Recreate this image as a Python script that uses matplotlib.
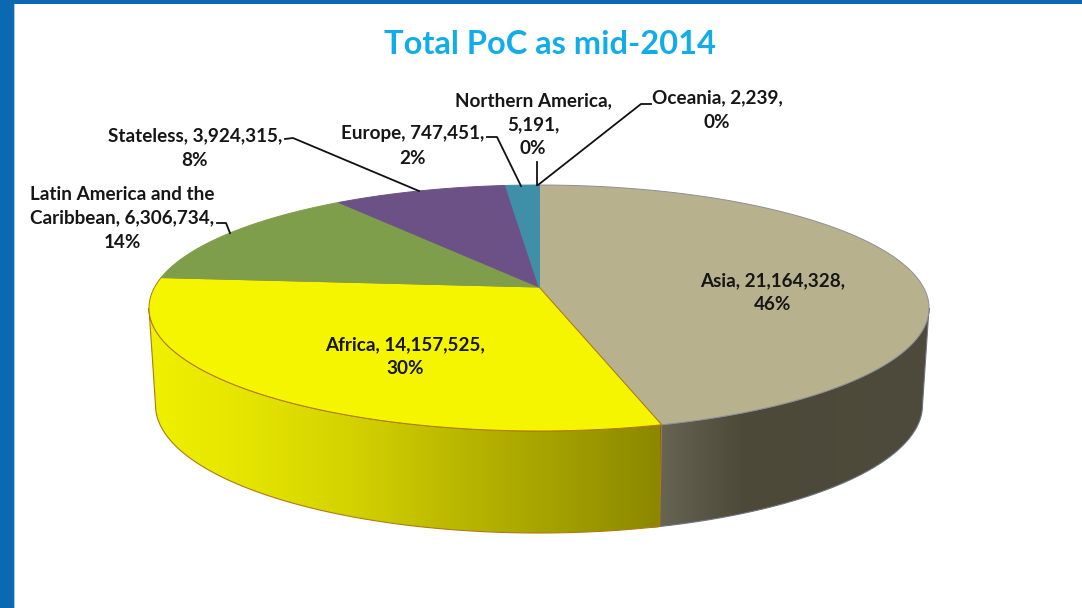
import numpy as np
import matplotlib
matplotlib.use("Agg")
import matplotlib.pyplot as plt
from matplotlib.colors import LinearSegmentedColormap
from matplotlib.patches import Polygon, Rectangle

plt.rcParams['font.family'] = ['Lato', 'DejaVu Sans']

categories = ["Asia", "Africa", "Latin America and the Caribbean", "Stateless",
              "Europe", "Northern America", "Oceania"]
values = [21164328, 14157525, 6306734, 3924315, 747451, 5191, 2239]
colors = ["#b8b18e", "#f5f500", "#7f9e4c", "#6c5186", "#3f8fa9", "#3f8fa9", "#3f8fa9"]
edges = ["#8a9098", "#b07a10", "#7f9e4c", "#6c5186", "#3f8fa9", "#3f8fa9", "#3f8fa9"]
labels = ["Asia, 21,164,328,\n46%", "Africa, 14,157,525,\n30%",
          "Latin America and the\nCaribbean, 6,306,734,\n14%", "Stateless, 3,924,315,\n8%",
          "Europe, 747,451,\n2%", "Northern America,\n5,191,\n0%", "Oceania, 2,239,\n0%"]
label_xy = [(773, 293), (405, 357), (122, 218), (195, 148), (413, 146), (533, 125), (717, 110)]
leaders = [None, None,
           [(217, 223), (226, 223), (230, 233)],
           [(285, 139), (293, 138), (419, 191)],
           [(487, 137), (497, 137), (521, 186)],
           [(537, 162), (537, 185)],
           [(651, 104), (641, 104), (538, 185)]]
side_x = {"Africa": [150, 250, 350, 450, 550, 660],
          "Asia": [655, 700, 745, 930]}
side_c = {"Africa": ["#f0f000", "#e4e400", "#d4d200", "#bcb900", "#a5a200", "#8b8800"],
          "Asia": ["#6a6656", "#5b5747", "#4c4939", "#4e4b3c"]}

CX, APEX_Y, K, A, B = 539, 287, 0.1707, 119.4, 384.3
TOP_CY, TOP_RX, TOP_RY = 308, 390, 123
BOT_CY, BOT_RX, BOT_RY = 405, 383.5, 128


def top_point(theta):
    x, y = np.sin(theta), np.cos(theta)
    d = 1 + K * y
    return CX + B * x / d, APEX_Y - A * y / d


def to_bottom(px, py):
    phi = np.arctan2((px - CX) / TOP_RX, (TOP_CY - py) / TOP_RY)
    return CX + BOT_RX * np.sin(phi), BOT_CY - BOT_RY * np.cos(phi)


fig = plt.figure(figsize=(10.82, 6.08), dpi=100, facecolor="white")
ax = fig.add_axes([0, 0, 1, 1])
ax.set_xlim(0, 1082)
ax.set_ylim(608, 0)
ax.axis("off")

frac = np.array(values, dtype=float) / sum(values)
cum = np.concatenate([[0], np.cumsum(frac)]) * 2 * np.pi

# slide frame
ax.add_patch(Rectangle((0, 0), 13.5, 608, fc="#0a69b0", ec="none", zorder=5))
ax.add_patch(Rectangle((13.5, 0), 1.5, 608, fc="#a9c8e4", ec="none", zorder=5))
ax.add_patch(Rectangle((0, 0), 1082, 3.5, fc="#0a69b0", ec="none", zorder=5))


def side(name, t0, t1, edge, z):
    th = np.linspace(t0, t1, 200)
    px, py = top_point(th)
    bx, by = to_bottom(px, py)
    verts = np.vstack([np.c_[px, py], np.c_[bx, by][::-1]])
    ax.add_patch(Polygon(verts, closed=True, fc="none", ec=edge, lw=0.8, zorder=z + 0.1))
    xs = np.array(side_x[name], dtype=float)
    pos = (xs - xs[0]) / (xs[-1] - xs[0])
    cmap = LinearSegmentedColormap.from_list(name, list(zip(pos, side_c[name])))
    im = ax.imshow(np.linspace(0, 1, 512)[None, :], cmap=cmap, aspect="auto",
                   extent=(xs[0], xs[-1], 540, 280), zorder=z)
    im.set_clip_path(Polygon(verts, closed=True, transform=ax.transData))


# right and left silhouette of the rim, in true-circle angles
t_right = np.arcsin(K) + np.pi / 2
t_left = 2 * np.pi - t_right
side("Asia", t_right, cum[1] + 0.02, "#6e7480", 2)
side("Africa", cum[1], t_left, "#b07a10", 3)
ax.set_xlim(0, 1082)
ax.set_ylim(608, 0)

# top faces
for i in range(len(values)):
    th = np.linspace(cum[i], cum[i + 1], max(3, int((cum[i + 1] - cum[i]) * 200)))
    px, py = top_point(th)
    verts = np.vstack([[CX, APEX_Y], np.c_[px, py]])
    ax.add_patch(Polygon(verts, closed=True, fc=colors[i], ec=edges[i], lw=0.7, zorder=4))

# labels and leader lines
for lab, (x, y), lead in zip(labels, label_xy, leaders):
    ax.text(x, y, lab, ha="center", va="center", fontsize=13.6, fontweight="bold",
            color="#161616", linespacing=1.5, zorder=7)
    if lead:
        lx, ly = zip(*lead)
        ax.plot(lx, ly, color="#111111", lw=1.3, zorder=6, solid_joinstyle="round")

ax.text(550, 44, "Total PoC as mid-2014", ha="center", va="center", fontsize=23.5,
        fontweight="bold", color="#12ade8", zorder=7)

fig.savefig("out.png", dpi=100, facecolor="white")
